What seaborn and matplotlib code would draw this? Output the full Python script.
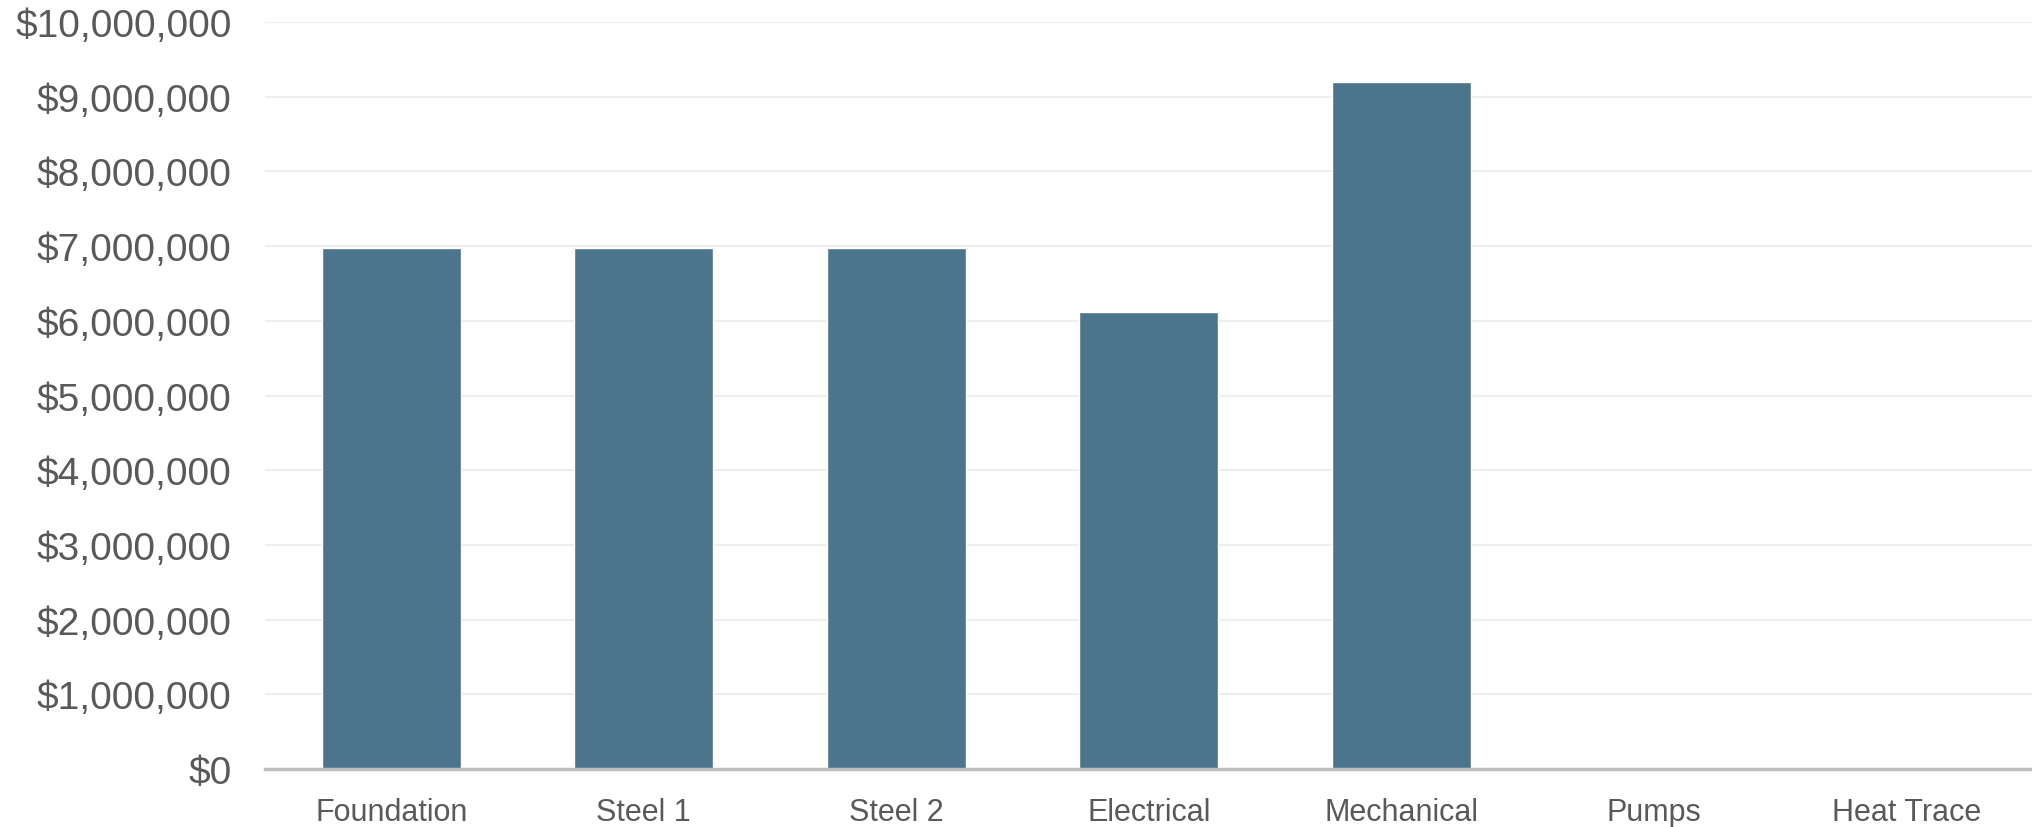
import matplotlib
matplotlib.use("Agg")
import matplotlib.pyplot as plt
import matplotlib.ticker as mticker
import seaborn as sns
import pandas as pd

categories = ["Foundation", "Steel 1", "Steel 2", "Electrical", "Mechanical", "Pumps", "Heat Trace"]
costs = [6980000, 6980000, 6980000, 6120000, 9200000, 0, 0]

sns.set_theme(style="white")
plt.rcParams["font.family"] = ["Liberation Sans", "DejaVu Sans"]

df = pd.DataFrame({"category": categories, "cost": costs})

fig = plt.figure(figsize=(20.33, 8.28), dpi=100)
ax = fig.add_axes([0.1303, 0.070, 0.8697, 0.9022])

sns.barplot(data=df, x="category", y="cost", order=categories, color="#4C748D",
            saturation=1, width=0.55, ax=ax, zorder=2)

ax.set_ylim(0, 10000000)
ax.set_xlim(-0.5, len(categories) - 0.5)
ax.yaxis.set_major_locator(mticker.MultipleLocator(1000000))
ax.yaxis.set_major_formatter(mticker.FuncFormatter(lambda v, p: f"${v:,.0f}"))
ax.grid(axis="y", color="#EEEEEE", linewidth=1.5, zorder=0)
ax.set_axisbelow(True)

for s in ["top", "right", "left"]:
    ax.spines[s].set_visible(False)
ax.spines["bottom"].set_color("#BFBFBF")
ax.spines["bottom"].set_linewidth(2.5)
ax.spines["bottom"].set_zorder(3)

ax.tick_params(axis="y", labelsize=28, labelcolor="#595959", length=0, pad=24)
ax.tick_params(axis="x", labelsize=22, labelcolor="#595959", length=0, pad=20)
ax.set_xlabel("")
ax.set_ylabel("")

fig.savefig("out.png", dpi=100, facecolor="white")
